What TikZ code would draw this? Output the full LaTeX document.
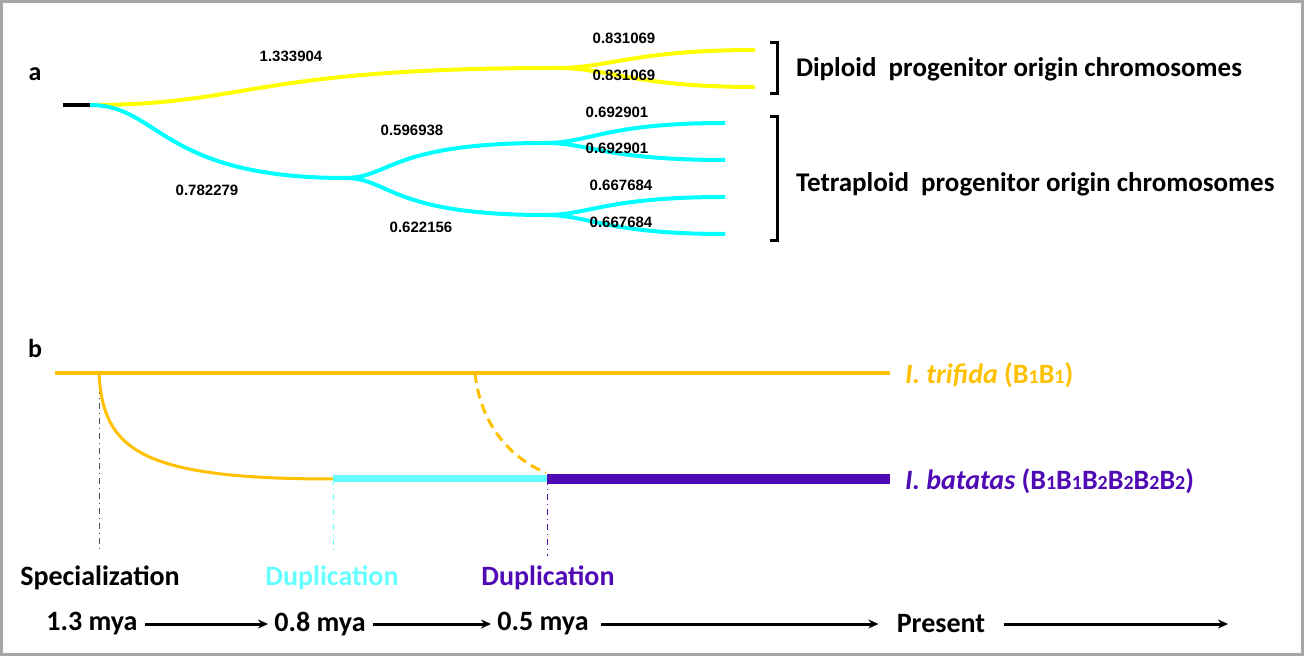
\documentclass[tikz,border=0pt]{standalone}
\usepackage{fontspec}
\setmainfont{Carlito}
\newfontfamily\numfont{Liberation Sans}
\usetikzlibrary{arrows.meta}
\definecolor{treeyellow}{HTML}{FFFF00}
\definecolor{treecyan}{HTML}{00FFFF}
\definecolor{trifidaorange}{HTML}{FFC000}
\definecolor{dupcyan}{HTML}{66FFFF}
\definecolor{batataspurple}{HTML}{500AB5}
\definecolor{framegray}{HTML}{A6A6A6}
\newcommand{\sdig}[1]{{\fontsize{10}{10}\selectfont #1}}
\begin{document}
\begin{tikzpicture}[x=0.5pt,y=-0.5pt,>={Stealth[length=5pt,width=4.5pt]},
  branch/.style={line width=2pt},
  blen/.style={font=\numfont\bfseries\fontsize{7.5}{8}\selectfont,inner sep=1pt},
  clade/.style={font=\bfseries\fontsize{13.5}{15}\selectfont,anchor=west},
  lineage/.style={font=\bfseries\fontsize{14}{16}\selectfont,anchor=west},
  event/.style={font=\bfseries\fontsize{14}{16}\selectfont,inner sep=2pt},
  guide/.style={line width=0.5pt,dash dot},
  timearrow/.style={->,line width=1.5pt,shorten <=1.5pt,shorten >=1pt}]
\useasboundingbox (0,0) rectangle (1304,656);
\draw[framegray,line width=1.5pt] (1.5,1.5) rectangle (1302.5,654.5);

% a: tree
\node[font=\bfseries\fontsize{13}{15}\selectfont] (pa) at (35,74) {a};
\coordinate (root) at (63,105);
\coordinate (base) at (90,105);
\coordinate (dsplit) at (558,68);
\coordinate (d1) at (755,50);
\coordinate (d2) at (755,87);
\coordinate (tsplit) at (345,178);
\coordinate (tu) at (545,143);
\coordinate (tl) at (545,215);
\coordinate (t1) at (725,123);
\coordinate (t2) at (725,160);
\coordinate (t3) at (725,197);
\coordinate (t4) at (725,234);

\draw[branch,treeyellow] (base) .. controls +(160,0) and +(-308,0) .. (dsplit);
\draw[branch,treeyellow] (dsplit) .. controls +(50,0) and +(-120,0) .. (d1);
\draw[branch,treeyellow] (dsplit) .. controls +(50,0) and +(-120,0) .. (d2);
\draw[branch,treecyan] (base) .. controls +(70,0) and +(-185,0) .. (tsplit);
\draw[branch,treecyan] (tsplit) .. controls +(45,0) and +(-155,0) .. (tu);
\draw[branch,treecyan] (tsplit) .. controls +(45,0) and +(-155,0) .. (tl);
\draw[branch,treecyan] (tu) .. controls +(45,0) and +(-120,0) .. (t1);
\draw[branch,treecyan] (tu) .. controls +(45,0) and +(-120,0) .. (t2);
\draw[branch,treecyan] (tl) .. controls +(45,0) and +(-120,0) .. (t3);
\draw[branch,treecyan] (tl) .. controls +(45,0) and +(-120,0) .. (t4);
\draw[branch,black] (root) -- (base);

\node[blen] (b1) at (291,56) {1.333904};
\node[blen] (b2) at (624,38) {0.831069};
\node[blen] (b3) at (624,75) {0.831069};
\node[blen] (b4) at (207,190) {0.782279};
\node[blen] (b5) at (412,130) {0.596938};
\node[blen] (b6) at (421,227) {0.622156};
\node[blen] (b7) at (617,112) {0.692901};
\node[blen] (b8) at (617,148) {0.692901};
\node[blen] (b9) at (621,185) {0.667684};
\node[blen] (b10) at (621,222) {0.667684};

\coordinate (dtop) at (770,43);
\coordinate (dbot) at (770,94);
\coordinate (ttop) at (770,117);
\coordinate (tbot) at (770,241);
\draw[line width=1.5pt] (dtop) -- ++(7,0) |- (dbot);
\draw[line width=1.5pt] (ttop) -- ++(7,0) |- (tbot);
\node[clade] (dip) at (789,69) {Diploid\ \ progenitor origin chromosomes};
\node[clade] (tet) at (789,184) {Tetraploid\ \ progenitor origin chromosomes};

% b: timeline
\node[font=\bfseries\fontsize{13}{15}\selectfont] (pb) at (35,348) {b};
\coordinate (tristart) at (55,373);
\coordinate (spec) at (99,373);
\coordinate (hyb) at (475,373);
\coordinate (triend) at (890,373);
\coordinate (dupa) at (333,479);
\coordinate (dupb) at (547,479);
\coordinate (batend) at (890,479);
\coordinate (gspec) at (99,553);
\coordinate (gdupa) at (333,550);
\coordinate (gdupb) at (547,556);

\draw[guide,black!70] (spec) -- (gspec);
\draw[guide,dupcyan] (dupa) -- (gdupa);
\draw[guide,batataspurple] (dupb) -- (gdupb);
\draw[trifidaorange,line width=2pt] (tristart) -- (triend);
\draw[trifidaorange,line width=1.5pt] (spec) .. controls +(4,77) and +(-193,0) .. (dupa);
\draw[trifidaorange,line width=1.5pt,dash pattern=on 5pt off 3pt] (hyb) .. controls +(5,47) and +(-41,-18) .. (546,473);
\draw[dupcyan,line width=3.5pt] (dupa) -- (dupb);
\draw[batataspurple,line width=5pt] (dupb) -- (batend);

\node[lineage,text=trifidaorange] (tri) at (898,375) {\textit{I.~trifida} (B\sdig{1}B\sdig{1})};
\node[lineage,text=batataspurple] (bat) at (898,481) {\textit{I.~batatas} (B\sdig{1}B\sdig{1}B\sdig{2}B\sdig{2}B\sdig{2}B\sdig{2})};

\node[event] (espec) at (100,578) {Specialization};
\node[event,text=dupcyan] (edupa) at (332,578) {Duplication};
\node[event,text=batataspurple] (edupb) at (548,578) {Duplication};

\node[event] (m13) at (92,624) {1.3 mya};
\node[event] (m08) at (320,624) {0.8 mya};
\node[event] (m05) at (543,624) {0.5 mya};
\node[event] (pres) at (941,624) {Present};
\coordinate (future) at (1230,624);
\draw[timearrow] (m13) -- (m08);
\draw[timearrow] (m08) -- (m05);
\draw[timearrow,shorten <=4pt,shorten >=7pt] (m05) -- (pres);
\draw[timearrow,shorten <=7pt] (pres) -- (future);
\end{tikzpicture}
\end{document}
